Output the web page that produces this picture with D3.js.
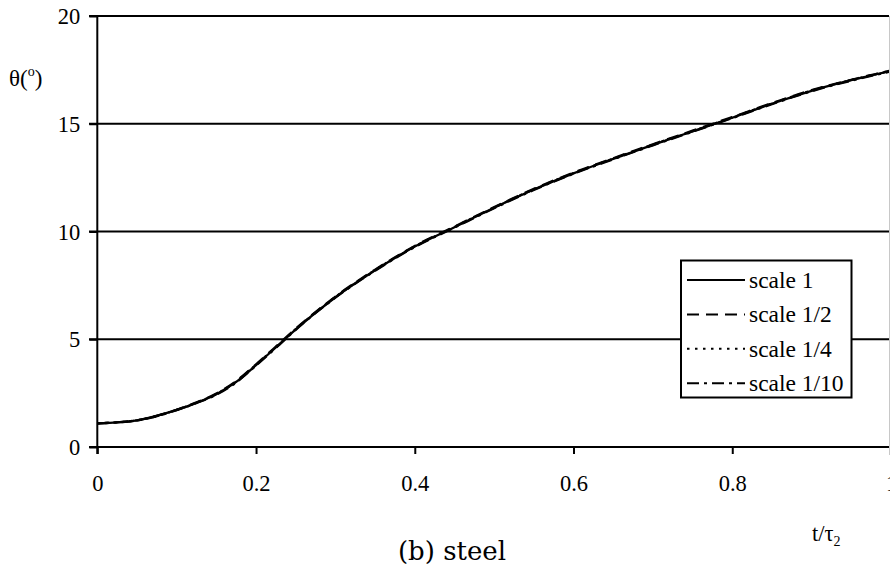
<!DOCTYPE html>
<html>
<head>
<meta charset="utf-8">
<script src="https://cdn.jsdelivr.net/npm/d3@7"></script>
<style>
  html, body { margin: 0; padding: 0; background: #fff; overflow: hidden; }
  svg { display: block; }
</style>
</head>
<body>
<svg id="chart" width="890" height="572"></svg>
<script>
// ---- data ----
const tValues  = [0, 0.05, 0.1, 0.125, 0.15, 0.175, 0.2, 0.225, 0.25, 0.3, 0.35, 0.4, 0.45, 0.5, 0.55, 0.6, 0.65, 0.7, 0.75, 0.8, 0.85, 0.9, 0.95, 1.0];
const scale1   = [1.10, 1.24, 1.72, 2.05, 2.45, 3.02, 3.80, 4.62, 5.46, 6.95, 8.20, 9.30, 10.20, 11.10, 11.95, 12.70, 13.37, 14.02, 14.65, 15.28, 15.93, 16.53, 17.02, 17.45];
const scale1_2 = [1.10, 1.24, 1.73, 2.07, 2.48, 3.06, 3.84, 4.66, 5.49, 6.98, 8.23, 9.33, 10.23, 11.13, 11.98, 12.73, 13.40, 14.05, 14.68, 15.31, 15.96, 16.56, 17.04, 17.47];
const scale1_4 = [1.10, 1.24, 1.72, 2.06, 2.46, 3.04, 3.82, 4.64, 5.47, 6.96, 8.21, 9.31, 10.21, 11.11, 11.96, 12.71, 13.38, 14.03, 14.66, 15.29, 15.94, 16.54, 17.03, 17.46];
const scale1_10= [1.10, 1.23, 1.71, 2.04, 2.43, 3.00, 3.78, 4.60, 5.44, 6.93, 8.18, 9.28, 10.18, 11.08, 11.93, 12.68, 13.35, 14.00, 14.63, 15.26, 15.91, 16.51, 17.00, 17.43];
const seriesNames = ["scale 1", "scale 1/2", "scale 1/4", "scale 1/10"];
const seriesValues = [scale1, scale1_2, scale1_4, scale1_10];
const seriesDash = ["none", "12,7", "3,5", "12,5,3,5"];
const xTicks = [0, 0.2, 0.4, 0.6, 0.8, 1];
const yTicks = [0, 5, 10, 15, 20];
const xTickLabels = ["0", "0.2", "0.4", "0.6", "0.8", "1"];

// ---- layout ----
const serif = "'Liberation Serif', 'Times New Roman', Times, serif";
const svg = d3.select("#chart");
const x = d3.scaleLinear().domain([0, 1]).range([97.3, 891]);
const y = d3.scaleLinear().domain([0, 20]).range([447, 16]);
const rightEdge = 889;

// gridlines (y = 5..20) incl. tick extension
svg.append("g").selectAll("line").data(yTicks.filter(d => d > 0)).join("line")
  .attr("x1", 89).attr("x2", rightEdge)
  .attr("y1", d => y(d)).attr("y2", d => y(d))
  .attr("stroke", "#000").attr("stroke-width", 2);

// faint right border
svg.append("line").attr("x1", rightEdge + 0.5).attr("x2", rightEdge + 0.5)
  .attr("y1", y(20)).attr("y2", 455).attr("stroke", "#c8c8c8").attr("stroke-width", 1);

// x axis
const xAxis = d3.axisBottom(x).tickValues(xTicks).tickSize(7).tickSizeOuter(0)
  .tickFormat((d, i) => xTickLabels[i]);
const gx = svg.append("g").attr("transform", `translate(0,${y(0)})`).call(xAxis)
  .attr("font-family", serif).attr("font-size", 22.5);
gx.select(".domain").attr("stroke", "#000").attr("stroke-width", 2)
  .attr("d", `M89,0H${rightEdge}`);
gx.selectAll(".tick line").attr("stroke", "#000").attr("stroke-width", 2);
gx.selectAll(".tick text").attr("y", 28).attr("dy", "0.71em").attr("fill", "#000");

// y axis
const yAxis = d3.axisLeft(y).tickValues(yTicks).tickSize(8).tickSizeOuter(0).tickFormat(d3.format("d"));
const gy = svg.append("g").attr("transform", `translate(${x(0)},0)`).call(yAxis)
  .attr("font-family", serif).attr("font-size", 22.5);
gy.select(".domain").attr("stroke", "#000").attr("stroke-width", 2)
  .attr("d", `M0,${y(20)}V${y(0) + 7}`);
gy.selectAll(".tick line").attr("stroke", "#000").attr("stroke-width", 2);
gy.selectAll(".tick text").attr("x", -17).attr("dy", "0.34em").attr("fill", "#000");

// curves
const line = d3.line().x((d, i) => x(tValues[i])).y(d => y(d)).curve(d3.curveMonotoneX);
svg.append("clipPath").attr("id", "clip").append("rect")
  .attr("x", x(0)).attr("y", 0).attr("width", rightEdge - x(0)).attr("height", 460);
svg.append("g").attr("clip-path", "url(#clip)").selectAll("path").data(seriesValues).join("path")
  .attr("d", d => line(d))
  .attr("fill", "none").attr("stroke", "#000").attr("stroke-width", 2.3)
  .attr("stroke-dasharray", (d, i) => seriesDash[i]);

// legend
const lg = svg.append("g").attr("font-family", serif);
lg.append("rect").attr("x", 681).attr("y", 260.5).attr("width", 170.5).attr("height", 137)
  .attr("fill", "#fff").attr("stroke", "#000").attr("stroke-width", 2);
const rows = lg.selectAll("g.row").data(seriesNames).join("g").attr("class", "row")
  .attr("transform", (d, i) => `translate(0,${280 + i * 34.4})`);
rows.append("line").attr("x1", 687).attr("x2", 745).attr("y1", 0).attr("y2", 0)
  .attr("stroke", "#000").attr("stroke-width", 2)
  .attr("stroke-dasharray", (d, i) => i === 2 ? "2.5,5.5" : seriesDash[i]);
rows.append("text").attr("x", 749).attr("y", 0).attr("dy", "0.33em")
  .attr("font-size", 23.5).attr("fill", "#000").text(d => d);

// axis titles
const yl = svg.append("text").attr("x", 9).attr("y", 86).attr("font-size", 23)
  .attr("font-family", serif).attr("fill", "#000");
yl.append("tspan").text("θ(");
yl.append("tspan").attr("font-size", 14).attr("dy", -10).text("o");
yl.append("tspan").attr("dy", 10).text(")");

const xl = svg.append("text").attr("x", 812).attr("y", 541).attr("font-size", 22.5)
  .attr("font-family", serif).attr("fill", "#000");
xl.append("tspan").text("t/τ");
xl.append("tspan").attr("font-size", 14).attr("dy", 5).text("2");

// caption
svg.append("text").attr("x", 452).attr("y", 560).attr("text-anchor", "middle")
  .attr("font-family", "'DejaVu Serif', serif").attr("font-size", 26).attr("fill", "#000")
  .text("(b) steel");
</script>
</body>
</html>
